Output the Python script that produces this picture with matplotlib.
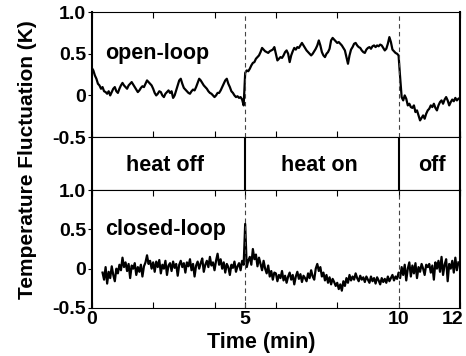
import numpy as np
import matplotlib
matplotlib.use('Agg')
import matplotlib.pyplot as plt
from matplotlib.transforms import ScaledTranslation

plt.rcParams['font.family'] = ['Liberation Sans', 'DejaVu Sans']
plt.rcParams['font.weight'] = 'bold'

# open-loop, sampled every 0.05 min from t = 0
open_loop = [
    0.33, 0.3, 0.24, 0.2, 0.14, 0.12, 0.08, 0.1, 0.05, 0.04, 0.02, 0.05, 0.0, 0.04, 0.08, 0.1, 0.05, 0.03, 0.08, 0.12,
    0.15, 0.12, 0.1, 0.08, 0.12, 0.14, 0.16, 0.13, 0.1, 0.07, 0.04, 0.06, 0.09, 0.11, 0.1, 0.14, 0.18, 0.16, 0.14, 0.12,
    0.08, 0.03, 0.0, 0.02, 0.05, 0.04, 0.0, -0.02, 0.02, 0.04, 0.06, 0.03, 0.05, -0.03, 0.0, 0.06, 0.12, 0.18, 0.2, 0.14,
    0.09, 0.07, 0.05, 0.03, 0.02, 0.05, 0.07, 0.06, 0.1, 0.15, 0.2, 0.18, 0.15, 0.12, 0.1, 0.08, 0.05, 0.03, 0.02, 0.0,
    -0.02, 0.0, 0.03, 0.03, 0.06, 0.1, 0.14, 0.18, 0.2, 0.14, 0.1, 0.05, 0.03, 0.0, -0.02, -0.01, -0.03, -0.02, -0.05, -0.12,
    0.27, 0.3, 0.29, 0.32, 0.36, 0.39, 0.4, 0.44, 0.46, 0.48, 0.52, 0.57, 0.55, 0.53, 0.52, 0.51, 0.53, 0.54, 0.55, 0.58,
    0.5, 0.42, 0.44, 0.46, 0.45, 0.48, 0.52, 0.54, 0.5, 0.4, 0.48, 0.53, 0.57, 0.55, 0.58, 0.57, 0.6, 0.63, 0.6, 0.57,
    0.54, 0.52, 0.5, 0.48, 0.5, 0.53, 0.56, 0.6, 0.66, 0.6, 0.52, 0.48, 0.46, 0.5, 0.52, 0.56, 0.66, 0.69, 0.67, 0.65,
    0.63, 0.64, 0.62, 0.6, 0.57, 0.54, 0.46, 0.38, 0.48, 0.55, 0.58, 0.62, 0.63, 0.6, 0.58, 0.57, 0.54, 0.52, 0.51, 0.55,
    0.57, 0.58, 0.56, 0.59, 0.6, 0.58, 0.6, 0.59, 0.61, 0.6, 0.57, 0.54, 0.56, 0.62, 0.7, 0.64, 0.55, 0.53, 0.51, 0.5,
    0.48, 0.22, -0.02, -0.06, 0.0, -0.04, -0.12, -0.1, -0.14, -0.15, -0.12, -0.2, -0.18, -0.24, -0.3, -0.27, -0.24, -0.28, -0.22, -0.18,
    -0.16, -0.12, -0.14, -0.1, -0.15, -0.18, -0.12, -0.08, -0.06, -0.1, -0.05, -0.02, -0.06, -0.12, -0.08, -0.05, -0.07, -0.03, -0.06, -0.04,
]
open_t0, open_t1 = 0.0, 11.95

# closed-loop, sampled every 0.05 min from t = 0.35
closed_loop = [
    -0.05, -0.14, 0.02, -0.19, -0.04, -0.12, 0.03, -0.08, -0.16, 0.0, -0.06, 0.05, -0.02,
    0.14, 0.02, 0.08, -0.03, 0.06, -0.12, 0.04, 0.0, 0.07, -0.08, 0.02, -0.04, 0.05, -0.1, 0.03, 0.08, 0.17, 0.06, 0.1, 0.0,
    0.08, -0.04, 0.09, 0.02, 0.11, -0.06, 0.05, 0.0, 0.1, -0.08, 0.04, 0.07, -0.03, 0.09, 0.01, 0.06, -0.09, 0.05, 0.1, 0.02,
    0.07, -0.05, 0.08, 0.03, 0.12, -0.02, 0.06, -0.1, 0.04, 0.09, 0.0, 0.07, 0.13, -0.04, 0.05, 0.1, 0.02, 0.15, 0.04, 0.08,
    -0.02, 0.1, 0.19, 0.05, 0.12, 0.0, 0.08, -0.05, 0.06, 0.02, -0.08, 0.05, 0.01, 0.09, -0.04, 0.03, 0.07, -0.02, 0.1, 0.05,
    0.57, 0.02, 0.1, 0.15, 0.05, 0.25, 0.12, 0.18, 0.03, 0.14, 0.06, -0.02, 0.1, 0.0, -0.06, 0.04, -0.1, -0.03, -0.14, -0.05,
    -0.06, -0.16, -0.08, -0.12, -0.03, -0.15, -0.09, -0.18, -0.1, -0.05, -0.14, -0.08, -0.2, -0.1, -0.04, -0.13, -0.07, -0.17, -0.09, -0.12,
    -0.16, -0.06, -0.12, -0.02, -0.1, -0.14, 0.0, 0.06, -0.03, 0.02, -0.1, -0.05, -0.15, -0.08, -0.18, -0.11, -0.2, -0.13, -0.17, -0.22,
    -0.18, -0.26, -0.2, -0.28, -0.16, -0.22, -0.12, -0.18, -0.08, -0.15, -0.1, -0.14, -0.06, -0.12, -0.16, -0.09, -0.14, -0.11, -0.17, -0.1,
    -0.14, -0.18, -0.1, -0.16, -0.12, -0.19, -0.11, -0.15, -0.2, -0.12, -0.17, -0.13, -0.18, -0.1, -0.16, -0.12, -0.08, -0.15, -0.1, -0.13,
    -0.05, -0.12, 0.02, -0.08, 0.05, -0.15, 0.0, 0.08, -0.1, 0.04, -0.06, 0.07, -0.12, 0.02, -0.04, 0.06, 0.0, -0.08, 0.05, 0.02,
    0.06, -0.05, 0.04, -0.14, 0.08, 0.0, 0.1, -0.04, 0.15, -0.08, 0.05, 0.12, -0.16, 0.06, 0.0, 0.1, -0.05, 0.14, -0.02, 0.08,
]
closed_t0, closed_t1 = 0.35, 11.95

switch_times = [5, 10]
phase_labels = ['heat off', 'heat on', 'off']
phase_x = [2.4, 7.43, 11.1]

t_open = np.linspace(open_t0, open_t1, len(open_loop))
t_closed = np.linspace(closed_t0, closed_t1, len(closed_loop))

fig = plt.figure(figsize=(4.66, 3.56), dpi=100)
L, W = 0.197, 0.790
ax1 = fig.add_axes([L, 0.615, W, 0.351])
axm = fig.add_axes([L, 0.466, W, 0.149])
ax2 = fig.add_axes([L, 0.135, W, 0.331])

for ax, t, y, name in [(ax1, t_open, open_loop, 'open-loop'),
                       (ax2, t_closed, closed_loop, 'closed-loop')]:
    ax.plot(t, y, color='black', lw=1.6)
    for s in switch_times:
        ax.axvline(s, color='#444444', lw=0.8, ls=(0, (4, 3)))
    ax.set_xlim(0, 12)
    ax.set_ylim(-0.5, 1.0)
    ax.set_yticks([-0.5, 0, 0.5, 1.0])
    ax.set_yticklabels(['-0.5', '0', '0.5', '1.0'], fontsize=14, fontweight='bold')
    ax.set_xticks([0, 2, 4, 6, 8, 12])
    ax.tick_params(axis='x', direction='in', top=True, length=4, width=0.8, labelbottom=False)
    ax.tick_params(axis='y', direction='out', length=3, width=0.8, pad=1)
    ax.text(0.42, 0.5, name, fontsize=15.5, fontweight='bold', va='center', ha='left')
    for side in ['top', 'bottom']:
        ax.spines[side].set_linewidth(0.8)
    for side in ['left', 'right']:
        ax.spines[side].set_linewidth(1.5)

ax2.set_xticks([0, 2, 4, 5, 6, 8, 10, 12])
ax2.set_xticklabels(['0', '', '', '5', '', '', '10', '12'], fontsize=14, fontweight='bold')
ax2.tick_params(axis='x', labelbottom=True, pad=2)
for lab in ax2.get_xticklabels():
    if lab.get_text() == '12':
        lab.set_transform(lab.get_transform() + ScaledTranslation(-0.07, 0, fig.dpi_scale_trans))
ax2.set_xlabel('Time (min)', fontsize=15.5, fontweight='bold')
ax2.xaxis.set_label_coords(0.459, -0.2)

axm.set_xlim(0, 12)
axm.set_ylim(0, 1)
axm.set_xticks([])
axm.set_yticks([])
for s in switch_times:
    axm.axvline(s, color='black', lw=1.5)
for lab, xp in zip(phase_labels, phase_x):
    axm.text(xp, 0.46, lab, fontsize=15.5, fontweight='bold', ha='center', va='center')
for side in ['top', 'bottom']:
    axm.spines[side].set_linewidth(0.8)
axm.spines['left'].set_linewidth(1.5)
axm.spines['right'].set_linewidth(1.5)

fig.text(0.06, 0.553, 'Temperature Fluctuation (K)', rotation=90, fontsize=15,
         fontweight='bold', ha='center', va='center')

fig.savefig('out.png', dpi=100)
